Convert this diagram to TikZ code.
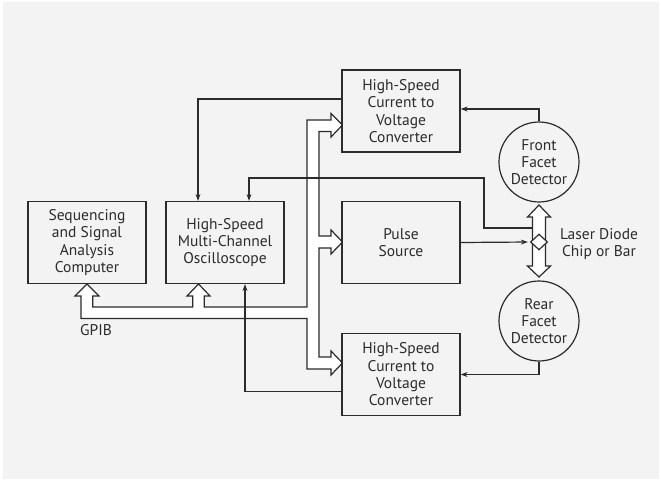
\documentclass[tikz,border=0pt]{standalone}
\usepackage{fontspec}
\setmainfont{PT Sans}
\usetikzlibrary{arrows.meta,shapes.geometric}
\definecolor{ink}{HTML}{2B2B2B}
\definecolor{paper}{HTML}{F3F3F3}
\begin{document}
\begin{tikzpicture}
            [
                x = 1pt,
                y = -1pt,
                line width = 1.2pt,
                draw = ink,
                every node/.style={
                    font = \fontsize{15.5}{17.3}\selectfont,
                    text = ink,
                    align = center
                },
                unit/.style={
                    draw = ink,
                    fill = paper,
                    minimum width = 118pt,
                    minimum height = 82pt,
                    inner sep = 0pt
                },
                sensor/.style={
                    draw = ink,
                    fill = paper,
                    circle,
                    minimum size = 80pt,
                    inner sep = 0pt
                },
                sig/.style={
                    ink,
                    -{Stealth[length=7pt,width=5pt]}
                },
                bus/.style={
                    draw = ink,
                    fill = white,
                    line join = miter
                }
            ]

                % page
                \fill[white] (0,0) rectangle (661,481);
                \fill[paper] (3,2) rectangle (659,479);
                \useasboundingbox (0,0) rectangle (661,481);

                % GPIB bus
                \draw[bus] (87,284) -- (99,296) -- (92.7,296) -- (92.7,307)
                    -- (192.7,307) -- (192.7,296) -- (187,296) -- (198.5,284)
                    -- (210,296) -- (204.3,296) -- (204.3,307) -- (307,307)
                    -- (307,120) -- (331,120) -- (331,113.5) -- (342.5,125)
                    -- (331,137) -- (331,131.5) -- (319,131.5) -- (319,236)
                    -- (331,236) -- (331,230) -- (342.5,242) -- (331,254)
                    -- (331,248) -- (319,248) -- (319,357) -- (331,357)
                    -- (331,351) -- (342.5,363) -- (331,375) -- (331,369)
                    -- (307,369) -- (307,318.5) -- (81,318.5) -- (81,296)
                    -- (75,296) -- cycle;

                % blocks
                \node[unit] (comp) at (87,242.5) {Sequencing\\and Signal\\Analysis\\Computer};
                \node[unit] (scope) at (225,242.5) {High-Speed\\Multi-Channel\\Oscilloscope};
                \node[unit] (convtop) at (401,111) {High-Speed\\Current to\\Voltage\\Converter};
                \node[unit] (pulse) at (401,242.5) {Pulse\\Source};
                \node[unit] (convbot) at (401,374.5) {High-Speed\\Current to\\Voltage\\Converter};
                \node[sensor] (front) at (539,162) {Front\\Facet\\Detector};
                \node[sensor] (rear) at (539,321) {Rear\\Facet\\Detector};

                % laser diode
                \draw[bus] (539,205) -- (550.5,217) -- (545.5,217) -- (545.5,266)
                    -- (550.5,266) -- (539,277) -- (527.5,266) -- (532.5,266)
                    -- (532.5,217) -- (527.5,217) -- cycle;
                \node[draw = ink, fill = white, diamond, inner sep = 0pt,
                    minimum width = 17pt, minimum height = 16pt] (chip) at (539,242) {};
                \coordinate (tap) at (532.5,228);
                \coordinate (bend) at (484,178);
                \node (chiplabel) at (599,244) {Laser Diode\\Chip or Bar};
                \node (gpib) at (96,330.5) {GPIB};

                % signals
                \draw[sig] ([yshift=12pt]convtop.west) -| ([xshift=-27pt]scope.north);
                \draw[sig] (front.north) |- ([yshift=2pt]convtop.east);
                \draw[sig] (tap) -| (bend) -| ([xshift=24pt]scope.north);
                \draw[sig, shorten >= 2pt] (pulse.east) -- (chip.west);
                \draw[sig] (rear.south) |- (convbot.east);
                \draw[sig] ([yshift=-17pt]convbot.west) -| ([xshift=20pt]scope.south);
\end{tikzpicture}
\end{document}
